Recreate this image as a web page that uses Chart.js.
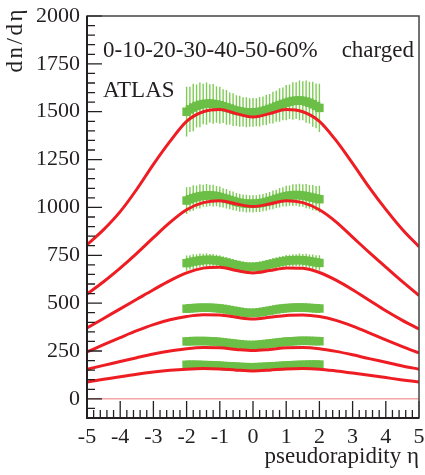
<!DOCTYPE html>
<html>
<head>
<meta charset="utf-8">
<script src="https://cdn.jsdelivr.net/npm/chart.js@4.4.0/dist/chart.umd.min.js"></script>
<style>
  body { margin: 0; background: #fff; }
  canvas { display: block; }
</style>
</head>
<body>
<canvas id="dndeta-chart" width="425" height="475"></canvas>
<script>
/* ---- data ---- */

// centrality classes, top curve = most central
var centralities = ['0-10%', '10-20%', '20-30%', '30-40%', '40-50%', '50-60%'];

// model curves (red), eta grid
var etaModel = [-5, -4.5, -4, -3.5, -3, -2.5, -2, -1.5, -1, -0.5, 0, 0.5, 1, 1.5, 2, 2.5, 3, 3.5, 4, 4.5, 5];
var model0 = [805, 884, 978, 1095, 1225, 1345, 1450, 1500, 1512, 1490, 1472, 1490, 1512, 1500, 1450, 1350, 1230, 1105, 990, 885, 795];
var model1 = [548, 612, 683, 760, 842, 922, 988, 1025, 1035, 1018, 1005, 1018, 1035, 1025, 988, 925, 845, 765, 688, 612, 540];
var model2 = [370, 420, 470, 520, 570, 618, 658, 683, 688, 670, 658, 670, 684, 682, 660, 620, 570, 515, 460, 410, 365];
var model3 = [245, 283, 320, 356, 388, 413, 430, 439, 438, 426, 417, 426, 436, 438, 430, 410, 380, 345, 308, 273, 240];
var model4 = [155, 175, 195, 215, 234, 250, 262, 268, 267, 258, 252, 258, 267, 268, 262, 248, 230, 210, 191, 172, 155];
var model5 = [88, 102, 116, 129, 140, 149, 155, 158, 156, 150, 146, 150, 156, 158, 155, 146, 135, 123, 111, 99, 88];

// measured points (green), eta grid
var etaData = [-2.0, -1.9, -1.8, -1.7, -1.6, -1.5, -1.4, -1.3, -1.2, -1.1, -1.0, -0.9, -0.8, -0.7, -0.6, -0.5, -0.4, -0.3, -0.2, -0.1,
               0.0, 0.1, 0.2, 0.3, 0.4, 0.5, 0.6, 0.7, 0.8, 0.9, 1.0, 1.1, 1.2, 1.3, 1.4, 1.5, 1.6, 1.7, 1.8, 1.9, 2.0];
var obs0 = [1500, 1512, 1522, 1530, 1536, 1540, 1542, 1543, 1541, 1538, 1534, 1529, 1523, 1517, 1511, 1506, 1502, 1499, 1497, 1496,
            1496, 1497, 1500, 1504, 1509, 1515, 1521, 1528, 1535, 1541, 1547, 1552, 1556, 1558, 1559, 1557, 1553, 1547, 1539, 1530, 1520];
var obs1 = [1036, 1043, 1049, 1054, 1058, 1061, 1063, 1063, 1062, 1059, 1055, 1050, 1045, 1039, 1034, 1029, 1025, 1022, 1020, 1019,
            1019, 1020, 1022, 1025, 1029, 1034, 1039, 1045, 1050, 1055, 1059, 1062, 1064, 1065, 1064, 1062, 1059, 1055, 1051, 1047, 1043];
var obs2 = [709, 713, 717, 720, 723, 725, 726, 726, 725, 723, 720, 716, 712, 707, 703, 699, 695, 692, 690, 689,
            689, 690, 692, 695, 699, 703, 707, 711, 715, 718, 721, 723, 724, 725, 725, 724, 722, 719, 716, 713, 710];
var obs3 = [471, 473, 474, 475, 476, 476, 476, 476, 475, 474, 472, 470, 467, 464, 461, 458, 455, 452, 450, 449,
            449, 450, 452, 455, 458, 461, 464, 467, 470, 472, 474, 475, 476, 477, 477, 477, 476, 475, 474, 473, 472];
var obs4 = [300, 301, 302, 302, 302, 302, 302, 301, 300, 299, 297, 295, 293, 291, 289, 287, 285, 283, 282, 281,
            281, 282, 283, 285, 287, 289, 291, 293, 295, 297, 299, 300, 301, 302, 303, 303, 303, 303, 302, 302, 301];
var obs5 = [178, 178, 178, 178, 177, 177, 176, 176, 175, 174, 173, 172, 171, 170, 169, 168, 167, 166, 166, 165,
            165, 166, 166, 167, 168, 169, 170, 171, 172, 173, 174, 175, 176, 177, 177, 178, 178, 179, 179, 179, 179];

// error bars (+/-)
var err0 = [130, 118, 124, 112, 117, 106, 110, 100, 104, 95, 97, 88, 91, 84, 86, 80, 81, 76, 78, 74,
            75, 73, 77, 75, 79, 77, 83, 81, 87, 85, 92, 90, 98, 96, 104, 102, 110, 109, 118, 117, 126];
var err1 = [70, 64, 67, 61, 63, 58, 60, 56, 57, 53, 54, 50, 51, 48, 49, 46, 47, 45, 46, 44,
            45, 44, 46, 45, 47, 46, 49, 48, 51, 50, 54, 53, 57, 56, 60, 59, 63, 62, 66, 65, 70];
var err2 = [40, 37, 38, 35, 36, 33, 34, 31, 32, 30, 30, 28, 29, 27, 27, 26, 26, 25, 25, 24,
            24, 24, 25, 25, 26, 26, 27, 27, 29, 28, 30, 30, 32, 31, 34, 33, 36, 35, 38, 37, 40];
var err3 = [22, 21, 21, 20, 20, 19, 19, 18, 18, 17, 17, 17, 16, 16, 16, 15, 15, 15, 15, 14,
            14, 14, 15, 15, 15, 15, 16, 16, 16, 17, 17, 17, 18, 18, 19, 19, 20, 20, 21, 21, 22];
var err4 = [14, 14, 13, 13, 13, 12, 12, 12, 12, 11, 11, 11, 11, 10, 10, 10, 10, 10, 10, 10,
            10, 10, 10, 10, 10, 10, 10, 10, 11, 11, 11, 11, 12, 12, 12, 12, 13, 13, 13, 14, 14];
var err5 = [9, 9, 9, 8, 8, 8, 8, 8, 8, 7, 7, 7, 7, 7, 7, 7, 7, 7, 7, 7,
            7, 7, 7, 7, 7, 7, 7, 7, 7, 7, 7, 7, 8, 8, 8, 8, 8, 8, 9, 9, 9];

// axis ticks
var xTicks = [-5, -4, -3, -2, -1, 0, 1, 2, 3, 4, 5];
var yTicks = [0, 250, 500, 750, 1000, 1250, 1500, 1750, 2000];

var models = [model0, model1, model2, model3, model4, model5];
var measured = [obs0, obs1, obs2, obs3, obs4, obs5];
var errors = [err0, err1, err2, err3, err4, err5];

var RED = '#ee1d23';
var GREEN = '#6bbf46';
var BAR_GREEN = '#7fcb55';
var INK = '#231f20';
var SERIF = '"Liberation Serif", "Times New Roman", serif';

/* ---- datasets ---- */

var datasets = [];
models.forEach(function (vals, i) {
    datasets.push({
        label: 'model ' + centralities[i],
        data: vals.map(function (v, k) { return { x: etaModel[k], y: v }; }),
        showLine: true,
        borderColor: RED,
        borderWidth: 3,
        pointRadius: 0,
        cubicInterpolationMode: 'monotone',
        order: 0
    });
});
measured.forEach(function (vals, i) {
    datasets.push({
        label: 'data ' + centralities[i],
        data: vals.map(function (v, k) { return { x: etaData[k], y: v }; }),
        showLine: false,
        pointStyle: 'rect',
        pointRadius: 6,
        pointBackgroundColor: GREEN,
        pointBorderWidth: 0,
        order: 2
    });
});

/* ---- frame, inward ticks, error bars, labels ---- */

var atlasDecor = {
    id: 'atlasDecor',
    beforeDatasetsDraw: function (chart) {
        var ctx = chart.ctx, xs = chart.scales.x, ys = chart.scales.y;
        ctx.save();
        // thin zero line
        var y0 = ys.getPixelForValue(0);
        ctx.strokeStyle = '#ef7a7a';
        ctx.lineWidth = 1;
        ctx.beginPath();
        ctx.moveTo(xs.left, y0);
        ctx.lineTo(xs.right, y0);
        ctx.stroke();
        // error bars
        ctx.strokeStyle = BAR_GREEN;
        ctx.lineWidth = 1.4;
        measured.forEach(function (vals, g) {
            ctx.beginPath();
            vals.forEach(function (v, k) {
                var px = xs.getPixelForValue(etaData[k]);
                ctx.moveTo(px, ys.getPixelForValue(v + errors[g][k]));
                ctx.lineTo(px, ys.getPixelForValue(v - errors[g][k]));
            });
            ctx.stroke();
        });
        ctx.restore();
    },
    afterDraw: function (chart) {
        var ctx = chart.ctx, xs = chart.scales.x, ys = chart.scales.y;
        var a = chart.chartArea;
        ctx.save();

        // ticks pointing into the frame
        ctx.strokeStyle = INK;
        ctx.lineWidth = 1.3;
        ctx.beginPath();
        for (var v = -100; v <= 2000; v += 50) {
            var py = ys.getPixelForValue(v);
            var len = (v % 250 === 0) ? 15 : 8;
            ctx.moveTo(a.left, py);
            ctx.lineTo(a.left + len, py);
        }
        for (var k = -25; k <= 25; k++) {
            var px = xs.getPixelForValue(k / 5);
            var l2 = (k % 5 === 0) ? 17 : 8;
            ctx.moveTo(px, a.bottom);
            ctx.lineTo(px, a.bottom - l2);
        }
        ctx.stroke();

        // frame
        ctx.strokeStyle = '#444';
        ctx.lineWidth = 1.5;
        ctx.strokeRect(a.left, a.top, a.right - a.left, a.bottom - a.top);
        ctx.strokeStyle = INK;
        ctx.lineWidth = 2;
        ctx.beginPath();
        ctx.moveTo(a.left, a.top);
        ctx.lineTo(a.left, a.bottom);
        ctx.lineTo(a.right, a.bottom);
        ctx.stroke();

        // texts
        ctx.fillStyle = INK;
        ctx.font = '23px ' + SERIF;
        ctx.textBaseline = 'alphabetic';
        ctx.textAlign = 'left';
        ctx.fillText('0-10-20-30-40-50-60%', 103, 57);
        ctx.fillText('ATLAS', 103, 97);
        ctx.textAlign = 'right';
        ctx.fillText('charged', 414, 57);
        ctx.fillText('pseudorapidity \u03b7', 419, 463);

        ctx.translate(22, 7);
        ctx.rotate(-Math.PI / 2);
        ctx.textAlign = 'right';
        ctx.letterSpacing = '2.5px';
        ctx.fillText('dn/d\u03b7', 0, 0);
        ctx.restore();
    }
};

function plainLabel(value) {
    return String(value);
}

/* ---- chart ---- */

var ctxD = document.getElementById('dndeta-chart').getContext('2d');
var dndetaChart = new Chart(ctxD, {
    type: 'scatter',
    data: { datasets: datasets },
    options: {
        responsive: false,
        animation: false,
        layout: { padding: { top: 16, right: 5, left: 0, bottom: 0 } },
        plugins: { legend: { display: false }, tooltip: { enabled: false } },
        scales: {
            x: {
                type: 'linear',
                min: -5,
                max: 5,
                grid: { display: false, drawTicks: false },
                border: { display: false },
                afterBuildTicks: function (scale) {
                    scale.ticks = xTicks.map(function (v) { return { value: v }; });
                },
                afterFit: function (scale) {
                    scale.height = 57;
                    scale.paddingLeft = 0;
                    scale.paddingRight = 0;
                },
                ticks: {
                    padding: 6,
                    maxRotation: 0,
                    color: INK,
                    font: { family: SERIF, size: 22 },
                    callback: plainLabel
                }
            },
            y: {
                type: 'linear',
                min: -100,
                max: 2000,
                grid: { display: false, drawTicks: false },
                border: { display: false },
                afterBuildTicks: function (scale) {
                    scale.ticks = yTicks.map(function (v) { return { value: v }; });
                },
                afterFit: function (scale) {
                    scale.width = 87;
                    scale.paddingTop = 0;
                    scale.paddingBottom = 0;
                },
                ticks: {
                    padding: 7,
                    color: INK,
                    font: { family: SERIF, size: 22 },
                    callback: plainLabel
                }
            }
        }
    },
    plugins: [atlasDecor]
});
</script>
</body>
</html>
